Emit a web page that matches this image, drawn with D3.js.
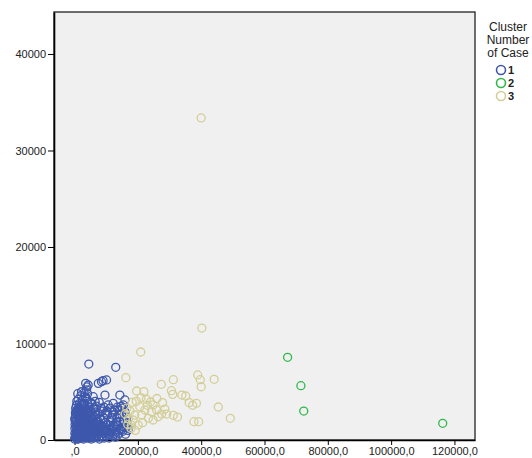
<!DOCTYPE html>
<html><head><meta charset="utf-8">
<script src="https://cdn.jsdelivr.net/npm/d3@7"></script>
<style>body{margin:0;background:#fff}svg{display:block}text{font-family:"Liberation Sans",Arial,sans-serif}</style>
</head><body><svg id="c" width="532" height="458"></svg>
<script>
const cluster1 = [[200,300],[500,800],[800,200],[1000,1500],[1200,600],[1500,2200],[1800,1000],[2000,400],[2200,2800],[2500,1600],[2800,900],[3000,2000],[3200,300],[3500,1200],[3800,2600],[4000,700],[400,1900],[700,2600],[900,3100],[1300,3400],[1600,3800],[1100,4200],[600,3600],[300,2400],[100,1200],[1400,1800],[1700,2500],[2100,3300],[2400,700],[2600,200],[2900,3000],[3300,3600],[3600,500],[3900,1700],[4200,2300],[4500,1300],[4800,400],[5000,2000],[5300,2900],[5600,900],[5900,1600],[6200,2400],[6500,600],[6800,1900],[7100,1200],[7400,2700],[7700,300],[8000,1600],[8300,2100],[8600,900],[8900,1400],[9200,2300],[9500,700],[9800,1800],[10100,1100],[10400,2600],[10700,500],[11000,1500],[11300,2000],[11600,800],[11900,1300],[12200,2900],[12500,600],[12800,1700],[13100,1100],[13400,2300],[13700,1500],[14000,700],[14300,1900],[14600,1200],[14900,2700],[15200,900],[15500,2000],[15800,1300],[16100,600],[16400,2400],[16800,1000],[300,500],[600,1100],[900,700],[1200,1300],[1500,400],[1800,1700],[2100,1200],[2400,2000],[2700,1400],[3000,600],[3300,1900],[3600,2400],[3900,1000],[4200,200],[4500,2800],[4800,1700],[5100,1100],[5400,300],[5700,2200],[6000,3200],[6300,1400],[6600,2900],[6900,500],[7200,2100],[7500,1500],[1000,4800],[2000,4600],[2500,4100],[3000,4900],[3300,4490],[3500,5870],[4300,5700],[4500,7870],[4000,4200],[5400,3800],[5900,4490],[6500,4000],[7000,3500],[7500,5870],[8500,6040],[9000,6150],[10100,6220],[8500,3280],[9600,4660],[10600,3630],[12200,3800],[12700,3110],[13000,7530],[13500,3400],[14300,4660],[15400,3630],[15900,4150],[14800,1040],[13300,1900],[2500,3700],[1800,3200],[4400,3400],[5000,3900],[6200,3400],[7800,3900],[9300,3400],[10200,3000],[11200,3300],[12000,2600],[14200,3100],[15000,3300],[16000,2900],[16600,1800],[17000,1200],[700,4000],[3800,5200],[500,3000],[200,2000],[400,1400],[700,100],[1100,900],[1400,2600],[1900,2100],[2300,3700],[2600,2900],[3100,2500],[3400,800],[3700,3100],[4100,1500],[4600,900],[5200,2500],[5500,1300],[6100,700],[6700,2600],[7300,800],[7900,2300],[8200,1200],[8700,3000],[9400,1000],[9900,2800],[10500,1600],[11100,600],[11800,2300],[12600,1400],[13200,800],[13900,2600],[14700,3500],[15600,1700],[16300,1300],[0,100],[100,700],[150,1600],[250,2800],[350,3300],[50,2200],[450,400],[550,1300],[650,2100],[750,3000],[850,500],[950,1800],[1050,2400],[1150,100],[1250,2900],[1350,1000],[1450,3100],[1550,1400],[1650,200],[1750,2800],[1850,600],[1950,1500],[2050,2500],[2150,300],[2250,1900],[2350,1100],[2450,3100],[2550,500],[2650,2300],[2750,1800],[2850,100],[2950,1200],[3050,3300],[3150,1600],[3250,2700],[3350,400],[3450,2100],[3550,1500],[3650,900],[3750,2000],[3850,300],[3950,2900],[4050,1200],[4150,3000],[4250,600],[4350,1800],[4550,2200],[4650,200],[4750,1100],[4850,2500],[4950,800],[5050,1500],[5250,100],[5350,1900],[5550,2700],[5650,500],[5850,1200],[6050,200],[6350,900],[6550,1700],[6850,300],[7050,900],[7350,1800],[7650,1000],[7850,100],[8150,700],[8450,1500],[8750,400],[9050,1100],[9350,200],[9650,1300],[9950,400],[10300,900],[10900,200],[11400,1100],[12100,400],[12900,300],[13600,500],[3000,3800],[3600,4300],[4100,4800],[2200,5000],[3900,5500]];
const cluster2 = [[67300,8570],[71500,5630],[72400,3000],[116300,1730]];
const cluster3 = [[40000,33370],[40200,11600],[20900,9120],[16200,6460],[27400,5770],[31200,6250],[38900,6740],[39700,6250],[40000,5520],[44100,6290],[19600,5080],[21900,5010],[30600,5110],[31000,4730],[33900,4660],[35100,4560],[36200,3870],[37300,3600],[38500,3800],[45400,3420],[49200,2250],[37700,1900],[39200,1900],[22700,4220],[24000,3940],[24800,3630],[27800,3870],[27500,2690],[29100,2690],[31200,2560],[32500,2380],[20600,3450],[22200,3110],[24300,2930],[25900,3110],[19000,2590],[21200,2590],[23300,2250],[18500,2070],[20100,1550],[18000,1550],[24800,2070],[26400,2410],[17500,3000],[17000,2200],[16500,3300],[18200,3900],[19500,4000],[21000,4400],[23000,3600],[17800,1200],[19200,1000],[16800,1600],[26000,4300],[28500,3200],[21500,1800],[16000,2700]];
const xTicks = [0,20000,40000,60000,80000,100000,120000];
const yTicks = [0,10000,20000,30000,40000];
const legendTitle = ["Cluster","Number","of Case"];
const legendLabels = ["1","2","3"];
const colors = ["#3E58AC","#2EB848","#D3CE97"];

const svg = d3.select("#c");
const L=54,R=475,T=12,B=440;
const x = d3.scaleLinear().domain([-6500,126500]).range([L,R]);
const y = d3.scaleLinear().domain([0,44350]).range([B,T]);

svg.append("rect").attr("x",L).attr("y",T).attr("width",R-L).attr("height",B-T)
  .attr("fill","#F0F0F0").attr("stroke","#222").attr("stroke-width",1.3);

const fmtX = d => d===0 ? ",0" : d3.format("d")(d)+",0";
const xa = svg.append("g").attr("transform",`translate(0,${B})`)
  .call(d3.axisBottom(x).tickValues(xTicks).tickFormat(fmtX).tickSize(5).tickPadding(2).tickSizeOuter(0));
const ya = svg.append("g").attr("transform",`translate(${L},0)`)
  .call(d3.axisLeft(y).tickValues(yTicks).tickFormat(d3.format("d")).tickSize(6).tickPadding(2).tickSizeOuter(0));
[xa,ya].forEach(a=>{
  a.select(".domain").attr("stroke","#000").attr("stroke-width",1.6);
  a.selectAll(".tick line").attr("stroke","#000");
  a.selectAll(".tick text").attr("fill","#222").style("font-size","11px").style("font-family","'Liberation Sans',Arial,sans-serif");
});

const g = svg.append("g");
[cluster1,cluster3,cluster2].forEach((data,i)=>{
  const c = [colors[0],colors[2],colors[1]][i];
  g.selectAll(null).data(data).enter().append("circle")
    .attr("cx",d=>x(d[0])).attr("cy",d=>y(d[1])).attr("r",4)
    .attr("fill","none").attr("stroke",c).attr("stroke-width",1.3);
});

const lg = svg.append("g");
legendTitle.forEach((t,i)=>{
  lg.append("text").attr("x",508).attr("y",31+i*13).attr("text-anchor","middle")
    .style("font-size","12px").attr("fill","#222").text(t);
});
legendLabels.forEach((t,i)=>{
  lg.append("circle").attr("cx",501).attr("cy",70+i*13).attr("r",4.5)
    .attr("fill","none").attr("stroke",colors[i]).attr("stroke-width",1.6);
  lg.append("text").attr("x",508).attr("y",74+i*13).style("font-size","11px")
    .style("font-weight","bold").attr("fill","#222").text(t);
});
</script></body></html>
